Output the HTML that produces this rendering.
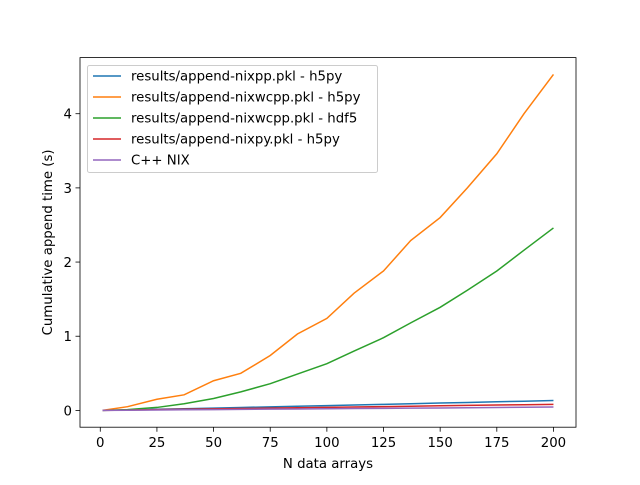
<!DOCTYPE html>
<html><head><meta charset="utf-8"><style>
body{margin:0;background:#fff;}
text{font-family:"DejaVu Sans","Liberation Sans",sans-serif;}
</style></head><body>
<svg id="chart" width="640" height="480" xmlns="http://www.w3.org/2000/svg">
<rect width="640" height="480" fill="#fff"/>
<g id="plot"></g>
</svg>
<script>
const xs = [1,12,25,37,50,62,75,87,100,112,125,137,150,162,175,187,200];
const nixppH5py = [0,0.005,0.015,0.023,0.031,0.039,0.048,0.056,0.065,0.073,0.082,0.09,0.099,0.107,0.116,0.124,0.133];
const nixwcppH5py = [0,0.05,0.15,0.21,0.40,0.50,0.74,1.03,1.24,1.58,1.88,2.29,2.6,3.0,3.46,4.0,4.53];
const nixwcppHdf5 = [0,0.01,0.04,0.09,0.16,0.25,0.36,0.49,0.63,0.8,0.98,1.18,1.39,1.62,1.88,2.16,2.46];
const nixpyH5py = [0,0.004,0.01,0.015,0.02,0.025,0.03,0.035,0.041,0.046,0.051,0.056,0.062,0.067,0.072,0.077,0.082];
const cppNix = [0,0.002,0.005,0.008,0.011,0.014,0.017,0.019,0.022,0.025,0.028,0.031,0.033,0.036,0.039,0.042,0.045];
const xTicks = [0,25,50,75,100,125,150,175,200];
const yTicks = [0,1,2,3,4];
const seriesNames = ["results/append-nixpp.pkl - h5py","results/append-nixwcpp.pkl - h5py","results/append-nixwcpp.pkl - hdf5","results/append-nixpy.pkl - h5py","C++ NIX"];
const colors = ["#1f77b4","#ff7f0e","#2ca02c","#d62728","#9467bd"];
const L=80,R=576,T=57.6,B=427.2;
const xmin=-8.95,xmax=209.95,ymin=-0.2265,ymax=4.7565;
const sx=v=>L+(v-xmin)/(xmax-xmin)*(R-L);
const sy=v=>B-(v-ymin)/(ymax-ymin)*(B-T);
const NS="http://www.w3.org/2000/svg";
const g=document.getElementById('plot');
function el(tag,attrs,parent){const e=document.createElementNS(NS,tag);for(const k in attrs)e.setAttribute(k,attrs[k]);(parent||g).appendChild(e);return e;}
const all=[nixppH5py,nixwcppH5py,nixwcppHdf5,nixpyH5py,cppNix];
all.forEach((ser,i)=>{
  const p=el('polyline',{points:ser.map((v,j)=>sx(xs[j])+','+sy(v)).join(' '),fill:'none',stroke:colors[i],'stroke-width':1.5});
  
  
});
const frame=el('rect',{x:L,y:T,width:R-L,height:B-T,fill:'none',stroke:'#000','stroke-width':0.8});


xTicks.forEach(t=>{
  const x=sx(t);
  el('line',{x1:x,x2:x,y1:B,y2:B+4.5,stroke:'#000','stroke-width':0.8});
  const tx=el('text',{x:x,y:B+20,'text-anchor':'middle','font-size':13.3,fill:'#000'});
  tx.textContent=t;
  
  
});
yTicks.forEach(t=>{
  const y=sy(t);
  el('line',{x1:L,x2:L-4.5,y1:y,y2:y,stroke:'#000','stroke-width':0.8});
  const tx=el('text',{x:L-8,y:y+5,'text-anchor':'end','font-size':13.3,fill:'#000'});
  tx.textContent=t;
  
  
});
const xl=el('text',{x:(L+R)/2,y:468,'text-anchor':'middle','font-size':13.3});
xl.textContent='N data arrays';


const yl=el('text',{x:0,y:0,'text-anchor':'middle','font-size':13.3,transform:'translate(52,'+((T+B)/2)+') rotate(-90)'});
yl.textContent='Cumulative append time (s)';


const lg=el('g',{});


el('rect',{x:87.5,y:65.5,width:290,height:107,rx:2,fill:'#fff','fill-opacity':0.8,stroke:'#ccc','stroke-width':1},lg);
seriesNames.forEach((n,i)=>{
  const y=76+i*21;
  el('line',{x1:93,x2:121,y1:y,y2:y,stroke:colors[i],'stroke-width':1.5},lg);
  const t=el('text',{x:131,y:y+4.5,'font-size':13.3},lg);
  t.textContent=n;
  
  
});
</script>
</body></html>
